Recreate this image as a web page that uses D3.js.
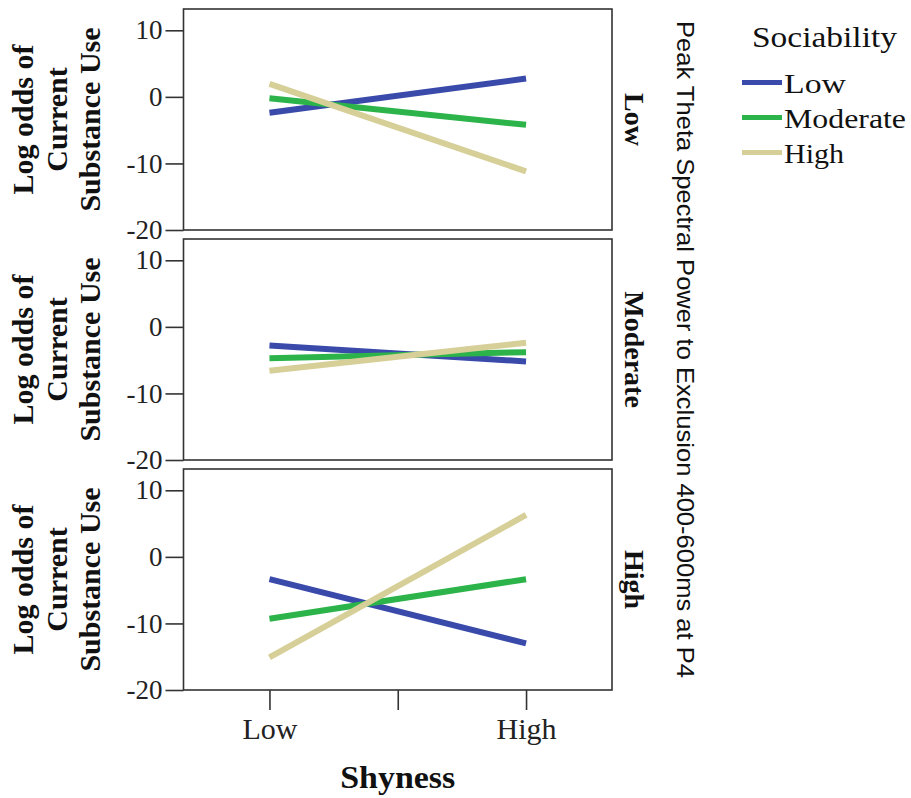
<!DOCTYPE html>
<html>
<head>
<meta charset="utf-8">
<script src="https://cdn.jsdelivr.net/npm/d3@7"></script>
<style>
  html, body { margin: 0; padding: 0; background: #fff; }
  svg { display: block; }
</style>
</head>
<body>
<svg id="chart" width="911" height="798"></svg>
<script>
// ---- data ----
const panelLabels = ["Low", "Moderate", "High"];          // Peak theta facet
const shynessLevels = ["Low", "High"];                     // x categories
const sociabilityLevels = ["Low", "Moderate", "High"];     // series
const yTicks = [-20, -10, 0, 10];
// values: [at Low shyness, at High shyness] for each sociability level
const thetaLowValues = [[-2.4, 2.75], [-0.2, -4.2], [1.95, -11.2]];
const thetaModerateValues = [[-2.8, -5.2], [-4.7, -3.8], [-6.6, -2.4]];
const thetaHighValues = [[-3.35, -13.0], [-9.3, -3.35], [-15.1, 6.3]];
const panelValues = [thetaLowValues, thetaModerateValues, thetaHighValues];
const seriesColors = ["#3a4aaa", "#2cb44a", "#d6cf98"];

const serif = "'Liberation Serif', 'Times New Roman', serif";
const sans = "'Liberation Sans', Arial, sans-serif";

const svg = d3.select("#chart");
const left = 183.5, right = 612;
const panelTops = [9, 239, 469], panelH = 221;

const x = d3.scaleLinear().domain([-0.335, 1.335]).range([left, right]);
const xPos = [0, 1];

panelValues.forEach((vals, pi) => {
  const top = panelTops[pi], bottom = top + panelH;
  const y = d3.scaleLinear().domain([-20, 13.2]).range([bottom, top]);
  const g = svg.append("g");

  // frame
  g.append("rect").attr("x", left).attr("y", top)
    .attr("width", right - left).attr("height", panelH)
    .attr("fill", "none").attr("stroke", "#333").attr("stroke-width", 1.6);

  // y axis
  const ya = g.append("g").attr("transform", `translate(${left},0)`)
    .call(d3.axisLeft(y).tickValues(yTicks).tickSize(18).tickPadding(3)
      .tickFormat(d => String(d)));
  ya.select(".domain").remove();
  ya.selectAll(".tick line").attr("stroke", "#333").attr("stroke-width", 1.6);
  ya.selectAll(".tick text").attr("font-family", serif).attr("font-size", 27)
    .attr("fill", "#222");

  // lines
  const line = d3.line().x((d, i) => x(xPos[i])).y(d => y(d));
  vals.forEach((v, si) => {
    g.append("path").datum(v).attr("d", line)
      .attr("fill", "none").attr("stroke", seriesColors[si])
      .attr("stroke-width", 6).attr("stroke-linecap", "butt");
  });

  // left y title
  const cy = (top + bottom) / 2;
  const lt = g.append("g").attr("transform", `translate(0,${cy}) rotate(-90)`);
  ["Log odds of", "Current", "Substance Use"].forEach((t, i) => {
    lt.append("text").attr("x", 0).attr("y", [33, 67, 100][i])
      .attr("text-anchor", "middle").attr("font-family", serif)
      .attr("font-weight", "bold").attr("font-size", 30).attr("fill", "#111")
      .text(t);
  });

  // right facet label
  g.append("text").attr("transform", `translate(625,${cy}) rotate(90)`)
    .attr("text-anchor", "middle").attr("font-family", serif)
    .attr("font-weight", "bold").attr("font-size", 28).attr("fill", "#111")
    .text(panelLabels[pi]);
});

// x axis on bottom panel
const xb = panelTops[2] + panelH;
const xa = svg.append("g").attr("transform", `translate(0,${xb})`)
  .call(d3.axisBottom(x).tickValues([0, 0.5, 1]).tickSize(20).tickPadding(8)
    .tickFormat(d => d === 0 ? shynessLevels[0] : d === 1 ? shynessLevels[1] : ""));
xa.select(".domain").remove();
xa.selectAll(".tick line").attr("stroke", "#333").attr("stroke-width", 1.6);
xa.selectAll(".tick text").attr("font-family", serif).attr("font-size", 30).attr("fill", "#222");

svg.append("text").attr("x", x(0.5)).attr("y", 788).attr("text-anchor", "middle")
  .attr("font-family", serif).attr("font-weight", "bold").attr("font-size", 32)
  .attr("fill", "#111").attr("textLength", 115).attr("lengthAdjust", "spacingAndGlyphs")
  .text("Shyness");

// right facet title
svg.append("text").attr("transform", `translate(677,${(panelTops[0] + xb) / 2}) rotate(90)`)
  .attr("text-anchor", "middle").attr("font-family", sans).attr("font-size", 24)
  .attr("fill", "#111").attr("textLength", 657).attr("lengthAdjust", "spacingAndGlyphs")
  .text("Peak Theta Spectral Power to Exclusion  400-600ms at P4");

// legend
svg.append("text").attr("x", 752).attr("y", 47).attr("font-family", serif)
  .attr("font-size", 29).attr("fill", "#111")
  .attr("textLength", 145).attr("lengthAdjust", "spacingAndGlyphs").text("Sociability");
const legendLens = [62, 122, 60];
sociabilityLevels.forEach((s, i) => {
  const ly = 82.5 + i * 35;
  svg.append("line").attr("x1", 742).attr("x2", 782).attr("y1", ly).attr("y2", ly)
    .attr("stroke", seriesColors[i]).attr("stroke-width", 5);
  svg.append("text").attr("x", 784).attr("y", ly + 10.5).attr("font-family", serif)
    .attr("font-size", 28).attr("fill", "#111")
    .attr("textLength", legendLens[i]).attr("lengthAdjust", "spacingAndGlyphs").text(s);
});
</script>
</body>
</html>
